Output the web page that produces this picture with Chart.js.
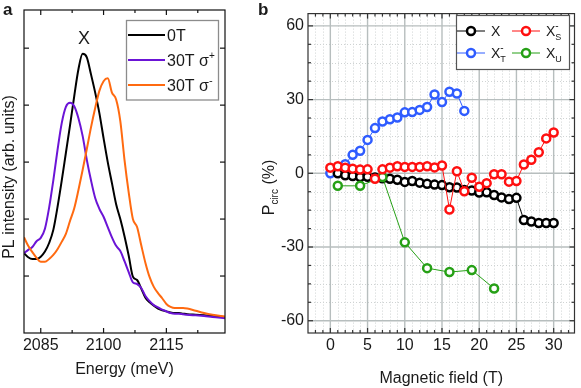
<!DOCTYPE html>
<html>
<head>
<meta charset="utf-8">
<script src="https://cdn.jsdelivr.net/npm/chart.js@4.4.0/dist/chart.umd.min.js"></script>
<style>
  html, body { margin: 0; padding: 0; background: #fff; }
  #pa { position: absolute; left: 0; top: 0; width: 250px; height: 388px; }
  #pb { position: absolute; left: 250px; top: 0; width: 331px; height: 388px; }
</style>
</head>
<body>
<div id="pa"><canvas id="specChart"></canvas></div>
<div id="pb"><canvas id="polChart"></canvas></div>
<script>
// ---- panel a: PL spectra ----
const energy = [2081, 2082, 2083, 2084, 2085, 2086, 2087, 2088, 2089, 2090,
  2091, 2092, 2093, 2094, 2095, 2096, 2097, 2098, 2099, 2100,
  2101, 2102, 2103, 2104, 2105, 2106, 2107, 2108, 2109, 2110,
  2111, 2112, 2113, 2114, 2115, 2116, 2117, 2118, 2119, 2120,
  2122, 2124, 2126, 2129];
const pl0T = [1.40, 1.33, 1.30, 1.30, 1.34, 1.43, 1.58, 1.81, 2.21, 2.67,
  3.16, 3.65, 4.16, 4.63, 4.90, 4.84, 4.54, 4.22, 3.86, 3.42,
  3.00, 2.63, 2.26, 2.00, 1.70, 1.36, 0.99, 0.93, 0.78, 0.62,
  0.54, 0.48, 0.43, 0.40, 0.38, 0.36, 0.35, 0.35, 0.34, 0.33,
  0.32, 0.31, 0.30, 0.28];
const pl30Plus = [1.40, 1.46, 1.51, 1.61, 1.67, 1.83, 2.20, 2.68, 3.21, 3.68,
  3.97, 4.04, 3.98, 3.77, 3.46, 3.04, 2.68, 2.37, 2.18, 2.04,
  1.86, 1.68, 1.53, 1.44, 1.26, 1.07, 0.89, 0.86, 0.79, 0.65,
  0.56, 0.49, 0.45, 0.41, 0.38, 0.35, 0.34, 0.34, 0.33, 0.32,
  0.31, 0.30, 0.28, 0.26];
const pl30Minus = [1.68, 1.53, 1.42, 1.32, 1.25, 1.25, 1.30, 1.37, 1.47, 1.60,
  1.74, 1.97, 2.19, 2.51, 2.86, 3.23, 3.61, 3.95, 4.25, 4.42,
  4.47, 4.22, 4.10, 3.72, 3.04, 2.47, 2.00, 1.86, 1.54, 1.23,
  0.98, 0.81, 0.70, 0.61, 0.51, 0.46, 0.44, 0.44, 0.44, 0.43,
  0.39, 0.35, 0.32, 0.29];
const energyTicks = [2085, 2100, 2115];
const energyMinor = [2092.5, 2107.5, 2122.5];
const intensityTicks = [1, 2, 3, 4, 5];

// ---- panel b: circular polarization ----
const fieldX = [1, 2, 3, 4, 5, 6, 7, 8, 9, 10, 11, 12, 13, 14, 15,
  16, 17, 18, 19, 20, 21, 22, 23, 24, 25, 26, 27, 28, 29, 30];
const polX = [0.0, -0.8, -1.1, -1.5, -1.4, -1.7, -2.0, -2.2, -2.6, -3.5, -3.1, -3.8, -4.3, -4.6, -4.8,
  -5.7, -5.8, -6.8, -7.0, -7.8, -7.7, -8.8, -9.8, -10.5, -10.0, -19.0, -19.6, -20.2, -20.2, -20.2];
const fieldXs = [0, 1, 2, 3, 4, 5, 6, 7, 8, 9, 10, 11, 12, 13, 14, 15,
  16, 17, 18, 19, 20, 21, 22, 23, 24, 25, 26, 27, 28, 29, 30];
const polXs = [2.3, 2.9, 2.3, 1.9, 1.5, 1.6, -2.2, 1.6, 2.3, 2.9, 2.6, 2.6, 2.6, 2.9, 2.4, 3.2,
  -14.7, 0.8, -7.3, -1.8, -5.5, -4.0, -0.4, -0.4, -3.4, -3.1, 3.6, 5.5, 8.6, 14.2, 16.6];
const fieldXt = [0, 1, 2, 3, 4, 5, 6, 7, 8, 9, 10, 11, 12, 13, 14, 15, 16, 17, 18];
const polXt = [0.0, 1.4, 3.7, 7.5, 9.2, 13.6, 18.4, 21.1, 22.0, 22.7, 24.8, 24.9, 25.8, 27.0,
  32.1, 29.0, 33.2, 32.5, 25.4];
const fieldXu = [1, 4, 7, 10, 13, 16, 19, 22];
const polXu = [-5.1, -5.1, -1.5, -28.1, -38.6, -40.2, -39.4, -46.9];
const fieldTicks = [0, 5, 10, 15, 20, 25, 30];
const polTicks = [-60, -30, 0, 30, 60];

const FONT = '"Liberation Sans", Arial, sans-serif';
const INK = '#1a1a1a';
Chart.defaults.font.family = FONT;
Chart.defaults.color = INK;

const pts = (xs, ys) => xs.map((x, i) => ({ x: x, y: ys[i] }));
const noGrid = { display: false, drawTicks: false, tickLength: 0 };

// text with sub/superscripts: [text, size, dy, stay]
function rich(ctx, x, y, parts, draw = true) {
  let cx = x;
  parts.forEach(([t, size, dy = 0, stay = false]) => {
    ctx.font = size + 'px ' + FONT;
    if (draw) ctx.fillText(t, cx, y + dy);
    if (!stay) cx += ctx.measureText(t).width;
  });
  return cx - x;
}
function richRotated(ctx, x, y, parts) {
  ctx.save();
  ctx.translate(x, y);
  ctx.rotate(-Math.PI / 2);
  ctx.textBaseline = 'alphabetic';
  const w = rich(ctx, 0, 0, parts, false);
  rich(ctx, -w / 2, 0, parts);
  ctx.restore();
}
function marker(ctx, x, y, color) {
  ctx.beginPath();
  ctx.arc(x, y, 4, 0, Math.PI * 2);
  ctx.fillStyle = '#fff';
  ctx.fill();
  ctx.lineWidth = 2.5;
  ctx.strokeStyle = color;
  ctx.stroke();
}

// frame, inward ticks, optional grid and extra decorations
function framePlugin(cfg) {
  const seg = (ctx, x1, y1, x2, y2) => { ctx.beginPath(); ctx.moveTo(x1, y1); ctx.lineTo(x2, y2); ctx.stroke(); };
  return {
    id: 'frame',
    beforeDatasetsDraw(chart) {
      if (!cfg.grid) return;
      const { ctx, chartArea: a, scales: { x, y } } = chart;
      ctx.save();
      ctx.lineWidth = 1;
      ctx.strokeStyle = '#cfd3d3';
      ctx.setLineDash([1, 2]);
      cfg.xMinor.forEach(v => { const p = Math.round(x.getPixelForValue(v)) + 0.5; seg(ctx, p, a.top, p, a.bottom); });
      cfg.yMinor.forEach(v => { const p = Math.round(y.getPixelForValue(v)) + 0.5; seg(ctx, a.left, p, a.right, p); });
      ctx.setLineDash([]);
      ctx.strokeStyle = '#b7bebe';
      ctx.lineWidth = 1.4;
      cfg.xMajor.forEach(v => { const p = x.getPixelForValue(v); seg(ctx, p, a.top, p, a.bottom); });
      cfg.yMajor.forEach(v => { const p = y.getPixelForValue(v); seg(ctx, a.left, p, a.right, p); });
      ctx.restore();
    },
    afterDraw(chart) {
      const { ctx, chartArea: a, scales: { x, y } } = chart;
      ctx.save();
      ctx.strokeStyle = cfg.frameColor;
      ctx.lineWidth = 1.2;
      ctx.strokeRect(a.left, a.top, a.right - a.left, a.bottom - a.top);
      const tickX = (vals, len) => vals.forEach(v => {
        const p = x.getPixelForValue(v);
        seg(ctx, p, a.bottom, p, a.bottom - len);
        seg(ctx, p, a.top, p, a.top + len);
      });
      const tickY = (vals, len) => vals.forEach(v => {
        const p = y.getPixelForValue(v);
        seg(ctx, a.left, p, a.left + len, p);
        seg(ctx, a.right, p, a.right - len, p);
      });
      tickX(cfg.xMajor, 5); tickX(cfg.xMinor, 3);
      tickY(cfg.yMajor, 5); tickY(cfg.yMinor, 3);
      ctx.fillStyle = INK;
      cfg.decorate(ctx, chart);
      ctx.restore();
    }
  };
}

// ---------- chart a ----------
const specColors = { zero: '#000000', plus: '#6b14d6', minus: '#ff6a10' };
new Chart(document.getElementById('specChart'), {
  type: 'line',
  data: {
    datasets: [
      { label: '30T σ-', data: pts(energy, pl30Minus), borderColor: specColors.minus },
      { label: '30T σ+', data: pts(energy, pl30Plus), borderColor: specColors.plus },
      { label: '0T', data: pts(energy, pl0T), borderColor: specColors.zero }
    ]
  },
  options: {
    responsive: true, maintainAspectRatio: false, animation: false,
    layout: { padding: { top: 10, right: 25, left: 0, bottom: 0 } },
    elements: {
      line: { borderWidth: 2, cubicInterpolationMode: 'monotone', fill: false },
      point: { radius: 0 }
    },
    plugins: { legend: { display: false }, tooltip: { enabled: false } },
    scales: {
      x: {
        type: 'linear', min: 2081, max: 2129,
        afterBuildTicks: s => { s.ticks = energyTicks.map(v => ({ value: v })); },
        afterFit: s => { s.height = 55; },
        grid: noGrid, border: { display: false },
        ticks: { padding: 3, font: { size: 16 }, maxRotation: 0, callback: v => String(v) },
        title: { display: true, text: 'Energy (meV)', font: { size: 16 }, padding: { top: 0, bottom: 9 } }
      },
      y: {
        min: 0, max: 5.67,
        afterBuildTicks: s => { s.ticks = intensityTicks.map(v => ({ value: v })); },
        afterFit: s => { s.width = 24; },
        grid: noGrid, border: { display: false },
        ticks: { display: false }
      }
    }
  },
  plugins: [framePlugin({
    frameColor: '#111',
    xMajor: energyTicks, xMinor: energyMinor, yMajor: intensityTicks, yMinor: [],
    decorate(ctx, chart) {
      const s = chart.scales;
      ctx.textBaseline = 'alphabetic';
      ctx.font = 'bold 17px ' + FONT;
      ctx.fillText('a', 3, 15);
      // exciton label above the 0T peak
      ctx.font = '18px ' + FONT;
      ctx.textAlign = 'center';
      ctx.fillText('X', s.x.getPixelForValue(2095.3), 44);
      ctx.textAlign = 'left';
      // legend
      ctx.strokeStyle = '#8c8c8c';
      ctx.lineWidth = 1.3;
      ctx.strokeRect(126.5, 20.5, 92, 79.5);
      const rows = [
        [specColors.zero, [['0T', 16]]],
        [specColors.plus, [['30T σ', 16], ['+', 10, -7]]],
        [specColors.minus, [['30T σ', 16], ['-', 11, -7]]]
      ];
      rows.forEach(([c, parts], i) => {
        const yy = 35 + i * 25;
        ctx.strokeStyle = c; ctx.lineWidth = 2;
        ctx.beginPath(); ctx.moveTo(128, yy); ctx.lineTo(165, yy); ctx.stroke();
        ctx.fillStyle = INK;
        rich(ctx, 167, yy + 6, parts);
      });
      richRotated(ctx, 13.5, 177, [['PL intensity (arb. units)', 16]]);
    }
  })]
});

// ---------- chart b ----------
const polColors = { x: '#000000', xs: '#ff1010', xt: '#2f5cff', xu: '#26a016' };
const fieldMinor = [];
for (let v = -2; v <= 32; v++) if (v % 5 !== 0) fieldMinor.push(v);
const polMinor = [];
for (let v = -60; v <= 60; v += 7.5) if (v % 30 !== 0) polMinor.push(v);
const series = (label, xs, ys, c) => ({
  label, data: pts(xs, ys), borderColor: c, borderWidth: 1,
  pointBorderColor: c, pointBackgroundColor: '#fff', pointRadius: 4, pointBorderWidth: 2.5
});

new Chart(document.getElementById('polChart'), {
  type: 'line',
  data: {
    datasets: [
      series('X-S', fieldXs, polXs, polColors.xs),
      series('XU', fieldXu, polXu, polColors.xu),
      series('X', fieldX, polX, polColors.x),
      series('X-T', fieldXt, polXt, polColors.xt)
    ]
  },
  options: {
    responsive: true, maintainAspectRatio: false, animation: false,
    layout: { padding: { top: 9, right: 3, left: 0, bottom: 0 } },
    elements: { line: { tension: 0, fill: false } },
    plugins: { legend: { display: false }, tooltip: { enabled: false } },
    scales: {
      x: {
        type: 'linear', min: -3, max: 32.8,
        afterBuildTicks: s => { s.ticks = fieldTicks.map(v => ({ value: v })); },
        afterFit: s => { s.height = 55; },
        grid: noGrid, border: { display: false },
        ticks: { padding: 3, font: { size: 16 }, maxRotation: 0 },
        title: { display: true, text: 'Magnetic field (T)', font: { size: 16 }, padding: { top: 0, bottom: 0 } }
      },
      y: {
        min: -65, max: 65,
        afterBuildTicks: s => { s.ticks = polTicks.map(v => ({ value: v })); },
        afterFit: s => { s.width = 58; },
        grid: noGrid, border: { display: false },
        ticks: { padding: 4, font: { size: 16 } }
      }
    }
  },
  plugins: [framePlugin({
    grid: true, frameColor: '#333',
    xMajor: fieldTicks, xMinor: fieldMinor, yMajor: polTicks, yMinor: polMinor,
    decorate(ctx) {
      ctx.textBaseline = 'alphabetic';
      ctx.font = 'bold 17px ' + FONT;
      ctx.fillText('b', 8, 15);
      // legend
      ctx.fillStyle = '#fff';
      ctx.fillRect(206, 15, 113, 54);
      ctx.strokeStyle = '#555';
      ctx.lineWidth = 1.2;
      ctx.strokeRect(206.5, 15.5, 113, 54);
      const items = [
        [polColors.x, 207, 31, [['X', 14]]],
        [polColors.xs, 262, 31, [['X', 14], ['-', 10, -7, true], ['S', 9, 4]]],
        [polColors.xt, 207, 53, [['X', 14], ['-', 10, -7, true], ['T', 9, 4]]],
        [polColors.xu, 262, 53, [['X', 14], ['U', 9, 4]]]
      ];
      items.forEach(([c, x0, yy, parts]) => {
        ctx.strokeStyle = c; ctx.lineWidth = 1;
        ctx.beginPath(); ctx.moveTo(x0, yy); ctx.lineTo(x0 + 28, yy); ctx.stroke();
        marker(ctx, x0 + 14, yy, c);
        ctx.fillStyle = INK;
        rich(ctx, x0 + 34, yy + 5, parts);
      });
      richRotated(ctx, 23.5, 187.5, [['P', 16], ['circ', 10, 4], [' (%)', 16]]);
    }
  })]
});
</script>
</body>
</html>
